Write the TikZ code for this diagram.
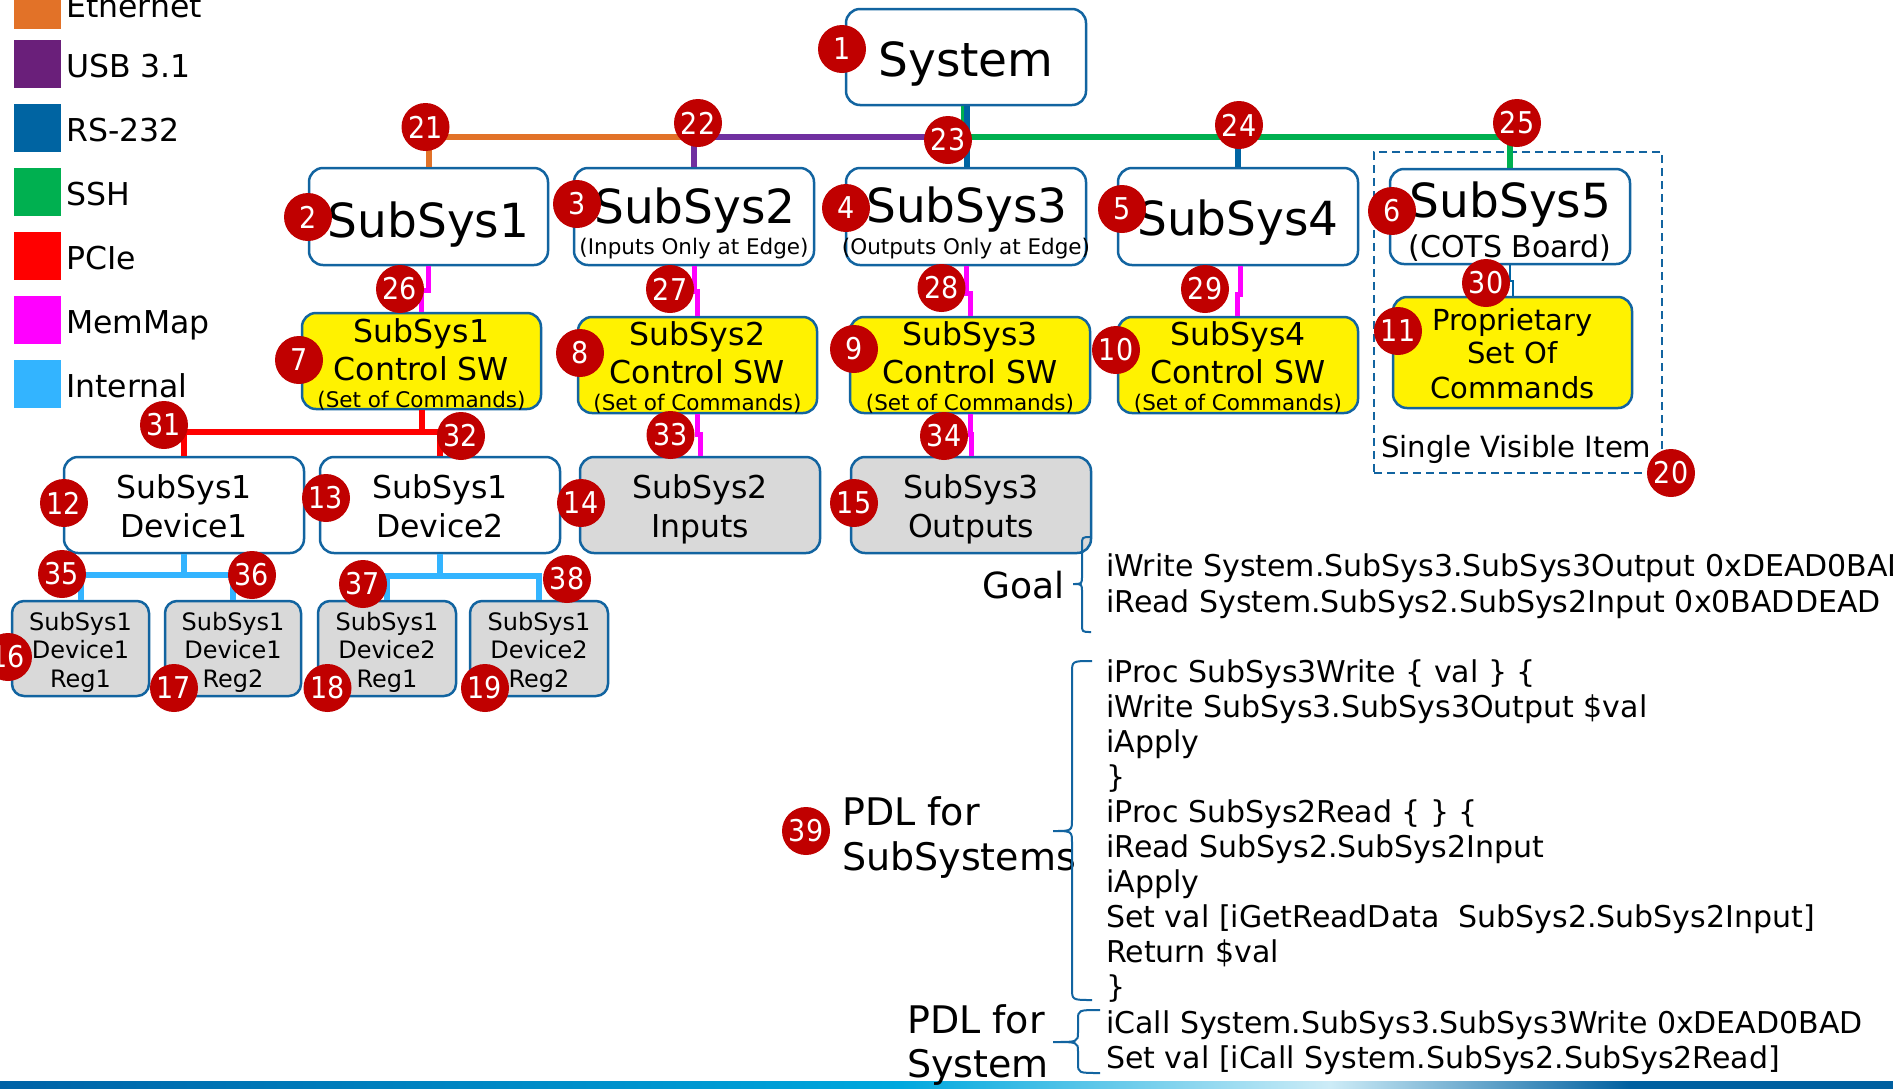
\documentclass[tikz,border=0pt]{standalone}
\usepackage{fontspec}
\setmainfont{DejaVu Sans}
\newfontfamily\badgefont[FakeStretch=0.9]{DejaVu Sans}
\usetikzlibrary{calc}
\newcommand{\myfs}[1]{\fontsize{#1}{#1}\selectfont}
\definecolor{eth}{RGB}{226,114,40}
\definecolor{usbL}{RGB}{106,31,122}
\definecolor{usb}{RGB}{112,48,160}
\definecolor{rs}{RGB}{0,100,162}
\definecolor{ssh}{RGB}{0,176,80}
\definecolor{pcie}{RGB}{255,0,0}
\definecolor{mem}{RGB}{255,0,255}
\definecolor{intl}{RGB}{51,180,255}
\definecolor{bred}{RGB}{192,0,0}
\definecolor{bord}{RGB}{18,100,160}
\definecolor{gfill}{RGB}{217,217,217}
\definecolor{ga}{RGB}{0,98,166}
\definecolor{gb}{RGB}{0,168,222}
\definecolor{gc}{RGB}{205,236,247}
\definecolor{gd}{RGB}{0,96,160}
\tikzset{
  box/.style={draw=bord, line width=2.5pt, rounded corners=14pt, inner sep=0pt},
  wbox/.style={box, fill=white},
  ybox/.style={box, fill=yellow},
  gbox/.style={box, fill=gfill},
  badge/.style={circle, fill=bred, minimum size=48pt, inner sep=0pt, text=white, font=\badgefont\myfs{30}},
  txt/.style={anchor=base, inner sep=0pt},
  conn/.style={line width=6pt},
  mm/.style={line width=5pt, mem},
  brc/.style={draw=bord, line width=2pt},
  lgt/.style={anchor=base west, inner sep=0pt, font=\myfs{31.5}},
  code/.style={anchor=base west, inner sep=0pt, font=\myfs{30}}
}
\begin{document}
\begin{tikzpicture}[x=1pt,y=-1pt]
\clip (0,0) rectangle (1893,1088);
\fill[white] (0,0) rectangle (1893,1088);
% legend
\fill[eth] (14,-20) rectangle (61,28.5);
\fill[usbL] (14,40) rectangle (61,88);
\fill[rs] (14,104) rectangle (61,152);
\fill[ssh] (14,168) rectangle (61,216);
\fill[pcie] (14,232) rectangle (61,280);
\fill[mem] (14,296) rectangle (61,344);
\fill[intl] (14,360) rectangle (61,408);
\node[lgt] (lg1) at (66,17.5) {Ethernet};
\node[lgt] (lg2) at (66,77) {USB 3.1};
\node[lgt] (lg3) at (66,141) {RS-232};
\node[lgt] (lg4) at (66,205) {SSH};
\node[lgt] (lg5) at (66,269) {PCIe};
\node[lgt] (lg6) at (66,333) {MemMap};
\node[lgt] (lg7) at (66,397) {Internal};
% dashed group
\node[draw=bord, line width=2pt, dash pattern=on 8pt off 5pt, minimum width=288pt, minimum height=321pt, inner sep=0pt] (grp) at (1518,312.5) {};
% boxes
\node[wbox, minimum width=240pt, minimum height=96pt] (sys) at (966,57) {};
\node[wbox, minimum width=239pt, minimum height=97pt] (ss1) at (428.5,216.5) {};
\node[wbox, minimum width=240pt, minimum height=97pt] (ss2) at (694,216.5) {};
\node[wbox, minimum width=240pt, minimum height=97pt] (ss3) at (966,216.5) {};
\node[wbox, minimum width=240pt, minimum height=97pt] (ss4) at (1238,216.5) {};
\node[wbox, minimum width=240pt, minimum height=95pt] (ss5) at (1510,216.5) {};
\node[ybox, minimum width=239pt, minimum height=96pt] (csw1) at (421.5,361) {};
\node[ybox, minimum width=239pt, minimum height=96pt] (csw2) at (697.5,365) {};
\node[ybox, minimum width=240pt, minimum height=96pt] (csw3) at (970,365) {};
\node[ybox, minimum width=240pt, minimum height=96pt] (csw4) at (1238,365) {};
\node[ybox, minimum width=239pt, minimum height=111pt] (prop) at (1512.5,352.5) {};
\node[wbox, minimum width=240pt, minimum height=96pt] (dev1) at (184,505) {};
\node[wbox, minimum width=240pt, minimum height=96pt] (dev2) at (440,505) {};
\node[gbox, minimum width=240pt, minimum height=96pt] (in2) at (700,505) {};
\node[gbox, minimum width=240pt, minimum height=96pt] (out3) at (971,505) {};
\node[gbox, rounded corners=12pt, minimum width=137pt, minimum height=95pt] (r1) at (80.5,648.5) {};
\node[gbox, rounded corners=12pt, minimum width=136pt, minimum height=95pt] (r2) at (233,648.5) {};
\node[gbox, rounded corners=12pt, minimum width=138pt, minimum height=95pt] (r3) at (387,648.5) {};
\node[gbox, rounded corners=12pt, minimum width=138pt, minimum height=95pt] (r4) at (539,648.5) {};
% box texts
\node[txt, font=\myfs{47}] (tsys) at (966,76) {System};
\node[txt, font=\myfs{47}] (tss1) at (428.5,237) {SubSys1};
\node[txt, font=\myfs{47}] (tss2) at (695,223) {SubSys2};
\node[txt, font=\myfs{21.5}] (tss2b) at (694,254) {(Inputs Only at Edge)};
\node[txt, font=\myfs{47}] (tss3) at (967,222) {SubSys3};
\node[txt, font=\myfs{21.5}] (tss3b) at (966,254) {(Outputs Only at Edge)};
\node[txt, font=\myfs{47}] (tss4) at (1238,235) {SubSys4};
\node[txt, font=\myfs{47}] (tss5) at (1510.5,217) {SubSys5};
\node[txt, font=\myfs{30}] (tss5b) at (1510,257) {(COTS Board)};
\node[txt, font=\myfs{31.5}] (tc1a) at (421.5,342) {SubSys1};
\node[txt, font=\myfs{31.5}] (tc1b) at (421.5,380) {Control SW};
\node[txt, font=\myfs{21.5}] (tc1c) at (421.5,407) {(Set of Commands)};
\node[txt, font=\myfs{31.5}] (tc2a) at (697.5,345) {SubSys2};
\node[txt, font=\myfs{31.5}] (tc2b) at (697.5,383) {Control SW};
\node[txt, font=\myfs{21.5}] (tc2c) at (697.5,410) {(Set of Commands)};
\node[txt, font=\myfs{31.5}] (tc3a) at (970,345) {SubSys3};
\node[txt, font=\myfs{31.5}] (tc3b) at (970,383) {Control SW};
\node[txt, font=\myfs{21.5}] (tc3c) at (970,410) {(Set of Commands)};
\node[txt, font=\myfs{31.5}] (tc4a) at (1238,345) {SubSys4};
\node[txt, font=\myfs{31.5}] (tc4b) at (1238,383) {Control SW};
\node[txt, font=\myfs{21.5}] (tc4c) at (1238,410) {(Set of Commands)};
\node[txt, font=\myfs{29}] (tpa) at (1512.5,330) {Proprietary};
\node[txt, font=\myfs{29}] (tpb) at (1512.5,363) {Set Of};
\node[txt, font=\myfs{29}] (tpc) at (1512.5,398) {Commands};
\node[anchor=base west, inner sep=0pt, font=\myfs{29.2}] (tsvi) at (1381,457) {Single Visible Item};
\node[txt, font=\myfs{31.5}] (td1a) at (184,498) {SubSys1};
\node[txt, font=\myfs{31.5}] (td1b) at (184,537) {Device1};
\node[txt, font=\myfs{31.5}] (td2a) at (440,498) {SubSys1};
\node[txt, font=\myfs{31.5}] (td2b) at (440,537) {Device2};
\node[txt, font=\myfs{31.5}] (ti2a) at (700,498) {SubSys2};
\node[txt, font=\myfs{31.5}] (ti2b) at (700,537) {Inputs};
\node[txt, font=\myfs{31.5}] (to3a) at (971,498) {SubSys3};
\node[txt, font=\myfs{31.5}] (to3b) at (971,537) {Outputs};
\node[txt, font=\myfs{24}] (tr1a) at (80.5,630) {SubSys1};
\node[txt, font=\myfs{24}] (tr1b) at (80.5,658) {Device1};
\node[txt, font=\myfs{24}] (tr1c) at (80.5,687) {Reg1};
\node[txt, font=\myfs{24}] (tr2a) at (233,630) {SubSys1};
\node[txt, font=\myfs{24}] (tr2b) at (233,658) {Device1};
\node[txt, font=\myfs{24}] (tr2c) at (233,687) {Reg2};
\node[txt, font=\myfs{24}] (tr3a) at (387,630) {SubSys1};
\node[txt, font=\myfs{24}] (tr3b) at (387,658) {Device2};
\node[txt, font=\myfs{24}] (tr3c) at (387,687) {Reg1};
\node[txt, font=\myfs{24}] (tr4a) at (539,630) {SubSys1};
\node[txt, font=\myfs{24}] (tr4b) at (539,658) {Device2};
\node[txt, font=\myfs{24}] (tr4c) at (539,687) {Reg2};
% top bus
\coordinate (b21) at (428.5,137);
\coordinate (b22) at (694,137);
\coordinate (b23) at (963.5,137);
\coordinate (b24) at (1238,137);
\coordinate (b25) at (1510,137);
\draw[conn, eth] (ss1.north) -- (b21) -- (b22);
\draw[conn, usb] (ss2.north) -- (b22) -- (b23);
\draw[conn, ssh] ([xshift=-2.5pt]sys.south) -- (b23) -- (b25) -- (ss5.north);
\draw[conn, rs] ([xshift=1pt]sys.south) -- ([xshift=1pt]ss3.north);
\draw[conn, rs] (ss4.north) -- (b24);
% memmap
\draw[mm] (ss1.south) -- ++(0,24) -| (csw1.north);
\draw[mm] (ss2.south) -- ++(0,25) -| (csw2.north);
\draw[mm] (ss3.south) -- ++(0,27) -| (csw3.north);
\draw[mm] ([xshift=2pt]ss4.south) -- ++(0,28) -| ([xshift=-1pt]csw4.north);
\draw[mm] (csw2.south) -- ++(0,20) -| (in2.north);
\draw[mm] (csw3.south) -- ++(0,20) -| (out3.north);
\draw[rs, line width=2pt] (ss5.south) -- ++(0,16) -| (prop.north);
% pcie
\coordinate (pb) at (421.5,432);
\draw[conn, pcie] (csw1.south) -- (pb);
\draw[conn, pcie] (dev1.north) |- (pb) -| (dev2.north);
% internal
\coordinate (ib1) at (184,575);
\coordinate (ib2) at (440,576);
\draw[conn, intl] (dev1.south) -- (ib1);
\draw[conn, intl] (r1.north) |- (ib1) -| (r2.north);
\draw[conn, intl] (dev2.south) -- (ib2);
\draw[conn, intl] (r3.north) |- (ib2) -| (r4.north);
% bottom bar
\shade[left color=ga, right color=gb] (0,1081) rectangle (901,1089);
\shade[left color=gb, right color=gc] (900,1081) rectangle (1331,1089);
\shade[left color=gc, right color=gd] (1330,1081) rectangle (1631,1089);
\fill[gd] (1630,1081) rectangle (1893,1089);
% goal
\node[anchor=base east, inner sep=0pt, font=\myfs{36}] (goal) at (1065,598) {Goal};
\draw[brc] (1091,537) .. controls (1082,537) .. (1082,545) -- (1082,576) .. controls (1082,584) .. (1073,584) .. controls (1082,584) .. (1082,592) -- (1082,624) .. controls (1082,632) .. (1091,632);
\node[code] (g1) at (1106,576) {iWrite System.SubSys3.SubSys3Output 0xDEAD0BAD};
\node[code] (g2) at (1106,612) {iRead System.SubSys2.SubSys2Input 0x0BADDEAD};
% PDL subsystems
\node[anchor=base west, inner sep=0pt, font=\myfs{38}] (pdl1a) at (842,825) {PDL for};
\node[anchor=base west, inner sep=0pt, font=\myfs{38}] (pdl1b) at (842,870) {SubSystems};
\draw[brc] (1092,661) .. controls (1072,661) .. (1072,673) -- (1072,819) .. controls (1072,831) .. (1053,831) .. controls (1072,831) .. (1072,843) -- (1072,988) .. controls (1072,1000) .. (1092,1000);
\node[code] (p1) at (1106,682) {iProc SubSys3Write \{ val \} \{};
\node[code] (p2) at (1106,717) {iWrite SubSys3.SubSys3Output \$val};
\node[code] (p3) at (1106,752) {iApply};
\node[code] (p4) at (1106,787) {\}};
\node[code] (p5) at (1106,822) {iProc SubSys2Read \{ \} \{};
\node[code] (p6) at (1106,857) {iRead SubSys2.SubSys2Input};
\node[code] (p7) at (1106,892) {iApply};
\node[code] (p8) at (1106,927) {Set val [iGetReadData\ \ SubSys2.SubSys2Input]};
\node[code] (p9) at (1106,962) {Return \$val};
\node[code] (p10) at (1106,997) {\}};
% PDL system
\node[anchor=base west, inner sep=0pt, font=\myfs{38}] (pdl2a) at (907,1033) {PDL for};
\node[anchor=base west, inner sep=0pt, font=\myfs{38}] (pdl2b) at (907,1077) {System};
\draw[brc] (1100,1010) .. controls (1078,1010) .. (1078,1020) -- (1078,1032) .. controls (1078,1042) .. (1053,1042) .. controls (1078,1042) .. (1078,1052) -- (1078,1063) .. controls (1078,1073) .. (1100,1073);
\node[code] (s1) at (1106,1033) {iCall System.SubSys3.SubSys3Write 0xDEAD0BAD};
\node[code] (s2) at (1106,1068) {Set val [iCall System.SubSys2.SubSys2Read]};
% badges
\node[badge] (n1) at (842,49) {1};
\node[badge] (n2) at (308,217) {2};
\node[badge] (n3) at (577,204) {3};
\node[badge] (n4) at (846,208) {4};
\node[badge] (n5) at (1122,209) {5};
\node[badge] (n6) at (1392,211) {6};
\node[badge] (n7) at (299,360) {7};
\node[badge] (n8) at (580,353) {8};
\node[badge] (n9) at (854,349) {9};
\node[badge] (n10) at (1116,350) {10};
\node[badge] (n11) at (1398,331) {11};
\node[badge] (n12) at (64,503) {12};
\node[badge] (n13) at (326,498) {13};
\node[badge] (n14) at (581,503) {14};
\node[badge] (n15) at (854,503) {15};
\node[badge] (n16) at (8,657) {16};
\node[badge] (n17) at (174,688) {17};
\node[badge] (n18) at (327.5,688) {18};
\node[badge] (n19) at (485,688) {19};
\node[badge] (n20) at (1671,473) {20};
\node[badge] (n21) at (425.5,127) {21};
\node[badge] (n22) at (698,123) {22};
\node[badge] (n23) at (948,140) {23};
\node[badge] (n24) at (1239,125) {24};
\node[badge] (n25) at (1517,123) {25};
\node[badge] (n26) at (400,289) {26};
\node[badge] (n27) at (670,289) {27};
\node[badge] (n28) at (941.5,288) {28};
\node[badge] (n29) at (1205,289) {29};
\node[badge] (n30) at (1486,283) {30};
\node[badge] (n31) at (164,425) {31};
\node[badge] (n32) at (461,436) {32};
\node[badge] (n33) at (670.5,435) {33};
\node[badge] (n34) at (944,436) {34};
\node[badge] (n35) at (62,574) {35};
\node[badge] (n36) at (252,575) {36};
\node[badge] (n37) at (363,584) {37};
\node[badge] (n38) at (567,579) {38};
\node[badge] (n39) at (806,831) {39};
\end{tikzpicture}
\end{document}
